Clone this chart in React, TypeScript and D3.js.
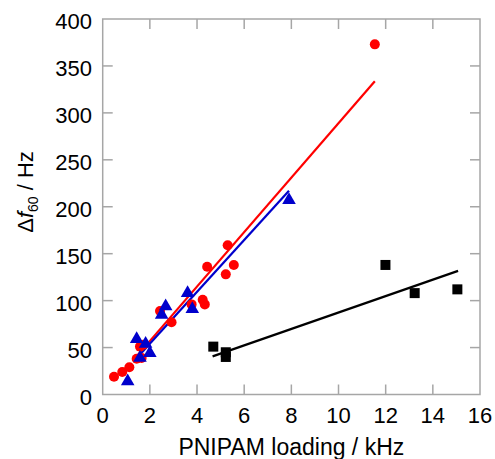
import { useEffect, useRef } from 'react';
import * as d3 from 'd3';

// red circles
const redX = [0.48, 0.83, 1.13, 1.44, 1.65, 1.58, 1.72, 2.43, 2.92, 3.77, 4.24, 4.33, 4.43, 5.22, 5.3, 5.56, 11.54];
const redY = [19, 24, 29, 38, 39, 51, 53, 89, 77, 96, 101, 96, 136, 128, 159, 138, 373];
// blue triangles
const blueX = [1.06, 1.44, 1.58, 1.82, 2.0, 2.5, 2.67, 3.6, 3.8, 7.9];
const blueY = [14, 59, 39, 54, 44, 85, 94, 108, 91, 207];
// black squares
const blackX = [4.69, 5.22, 5.22, 11.99, 13.23, 15.04];
const blackY = [51, 45, 40, 138, 108, 112];

// linear fits: [x0, x1, slope, intercept]
const redFit = [1.5, 11.54, 29.0, -1.0];
const blueFit = [1.6, 7.9, 27.6, -1.1];
const blackFit = [4.66, 15.07, 8.75, -0.2];

const xTicks = [0, 2, 4, 6, 8, 10, 12, 14, 16];
const yTicks = [0, 50, 100, 150, 200, 250, 300, 350, 400];

const App = () => {
  const ref = useRef<SVGSVGElement>(null);

  useEffect(() => {
    document.body.style.margin = '0';
    const svg = d3.select(ref.current);
    svg.selectAll('*').remove();

    const x = d3.scaleLinear().domain([0, 16]).range([102.7, 480]);
    const y = d3.scaleLinear().domain([0, 400]).range([394.5, 19]);
    const axisColor = '#a6a6a6';
    const font = 'Liberation Sans, Arial, sans-serif';

    // frame
    svg
      .append('rect')
      .attr('x', x(0))
      .attr('y', y(400))
      .attr('width', x(16) - x(0))
      .attr('height', y(0) - y(400))
      .attr('fill', 'none')
      .attr('stroke', axisColor)
      .attr('stroke-width', 1.5);

    const tl = 10;
    xTicks.slice(1, -1).forEach((t) => {
      svg.append('line').attr('x1', x(t)).attr('x2', x(t)).attr('y1', y(0)).attr('y2', y(0) - tl)
        .attr('stroke', axisColor).attr('stroke-width', 1.5);
      svg.append('line').attr('x1', x(t)).attr('x2', x(t)).attr('y1', y(400)).attr('y2', y(400) + tl)
        .attr('stroke', axisColor).attr('stroke-width', 1.5);
    });
    yTicks.slice(1, -1).forEach((t) => {
      svg.append('line').attr('x1', x(0)).attr('x2', x(0) + tl).attr('y1', y(t)).attr('y2', y(t))
        .attr('stroke', axisColor).attr('stroke-width', 1.5);
      svg.append('line').attr('x1', x(16)).attr('x2', x(16) - tl).attr('y1', y(t)).attr('y2', y(t))
        .attr('stroke', axisColor).attr('stroke-width', 1.5);
    });

    // tick labels
    svg.selectAll('.xt').data(xTicks).enter().append('text')
      .attr('x', (d) => x(d))
      .attr('y', 423)
      .attr('text-anchor', 'middle')
      .style('font-family', font)
      .style('font-size', '22px')
      .text((d) => d);
    svg.selectAll('.yt').data(yTicks).enter().append('text')
      .attr('x', 92)
      .attr('y', (d) => y(d) + 10)
      .attr('text-anchor', 'end')
      .style('font-family', font)
      .style('font-size', '22px')
      .text((d) => d);

    // axis titles
    svg.append('text')
      .attr('x', (x(0) + x(16)) / 2)
      .attr('y', 455)
      .attr('text-anchor', 'middle')
      .style('font-family', font)
      .style('font-size', '23px')
      .text('PNIPAM loading / kHz');

    const yl = svg.append('text')
      .attr('transform', 'translate(33,192) rotate(-90)')
      .attr('text-anchor', 'middle')
      .style('font-family', font)
      .style('font-size', '22px');
    yl.append('tspan').text('Δ');
    yl.append('tspan').style('font-style', 'italic').text('f');
    yl.append('tspan').attr('dy', 5).style('font-size', '14px').text('60');
    yl.append('tspan').attr('dy', -5).text(' / Hz');

    // fit lines
    const fits = [
      { f: redFit, c: '#ff0000' },
      { f: blueFit, c: '#0000cc' },
      { f: blackFit, c: '#000000' },
    ];
    fits.forEach(({ f, c }) => {
      const [x0, x1, m, b] = f;
      svg.append('line')
        .attr('x1', x(x0)).attr('y1', y(m * x0 + b))
        .attr('x2', x(x1)).attr('y2', y(m * x1 + b))
        .attr('stroke', c).attr('stroke-width', 2.2);
    });

    // markers
    svg.selectAll('.red').data(redX.map((v, i) => [v, redY[i]])).enter().append('circle')
      .attr('cx', (d) => x(d[0]))
      .attr('cy', (d) => y(d[1]))
      .attr('r', 5)
      .attr('fill', '#ff0000');

    const tri = d3.symbol().type(d3.symbolTriangle).size(80);
    svg.selectAll('.blue').data(blueX.map((v, i) => [v, blueY[i]])).enter().append('path')
      .attr('d', tri)
      .attr('transform', (d) => `translate(${x(d[0])},${y(d[1])})`)
      .attr('fill', '#0000cc');

    svg.selectAll('.black').data(blackX.map((v, i) => [v, blackY[i]])).enter().append('rect')
      .attr('x', (d) => x(d[0]) - 5)
      .attr('y', (d) => y(d[1]) - 5)
      .attr('width', 10)
      .attr('height', 10)
      .attr('fill', '#000000');
  }, []);

  return <svg ref={ref} width={495} height={459} style={{ display: 'block' }}></svg>;
};

export default App;
